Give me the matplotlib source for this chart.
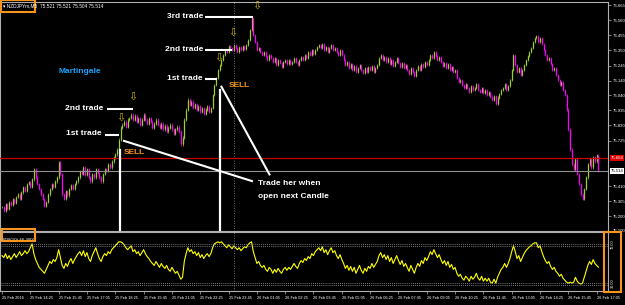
import numpy as np
import matplotlib.pyplot as plt
from matplotlib.patches import Rectangle

# M5 closes, 25 Feb 13:05 -> 26 Feb 17:15
closes = [
    75.263, 75.235, 75.283, 75.249, 75.297, 75.276, 75.318, 75.290, 75.332, 75.352,
    75.318, 75.366, 75.401, 75.373, 75.422, 75.435, 75.401, 75.456,
    75.525, 75.470, 75.422, 75.387, 75.352, 75.318, 75.270, 75.297, 75.352,
    75.387, 75.422, 75.401, 75.442, 75.470, 75.574,
    75.491, 75.352, 75.318, 75.373, 75.345, 75.387, 75.415, 75.387, 75.422, 75.442, 75.470,
    75.512, 75.491, 75.539, 75.484, 75.525, 75.470, 75.442, 75.491, 75.470, 75.525, 75.498, 75.470,
    75.442, 75.491, 75.525, 75.512, 75.560, 75.539, 75.580, 75.608, 75.629, 75.663, 75.732,
    75.815, 75.836, 75.857, 75.822, 75.871, 75.884, 75.905,
    75.871, 75.898, 75.857, 75.884, 75.836, 75.871, 75.905, 75.871, 75.843, 75.884,
    75.857, 75.815, 75.843, 75.871, 75.836,
    75.815, 75.843, 75.802, 75.829, 75.788, 75.815, 75.836, 75.802, 75.774, 75.802,
    75.822, 75.788, 75.698,
    75.746, 75.871, 75.940, 76.009, 75.974, 75.995,
    75.953, 75.981, 75.940, 75.967, 75.926, 75.953, 75.912, 75.940, 75.967, 75.926, 75.953,
    76.043, 76.112, 76.161, 76.216, 76.251, 76.285,
    76.320, 76.354, 76.340, 76.382, 76.368, 76.354, 76.389, 76.368, 76.340, 76.375,
    76.354, 76.382, 76.361, 76.389, 76.423, 76.492,
    76.575, 76.458, 76.410, 76.354, 76.368, 76.340, 76.320,
    76.340, 76.313, 76.285, 76.320, 76.299, 76.271, 76.299, 76.251, 76.285, 76.264,
    76.237, 76.271, 76.285, 76.258,
    76.285, 76.258, 76.271, 76.299, 76.271, 76.251, 76.285, 76.306, 76.285, 76.320,
    76.299, 76.340, 76.320, 76.354, 76.327, 76.354, 76.375,
    76.389, 76.368, 76.396, 76.354, 76.375, 76.340, 76.368, 76.389, 76.354, 76.368,
    76.340, 76.320, 76.354, 76.320,
    76.285, 76.251, 76.271, 76.230, 76.258, 76.216, 76.244, 76.202, 76.230, 76.251,
    76.216, 76.195, 76.230, 76.202, 76.237, 76.216, 76.244, 76.202, 76.230, 76.251,
    76.299, 76.320, 76.285, 76.306, 76.271, 76.299, 76.258, 76.285, 76.244, 76.271,
    76.299, 76.264, 76.237, 76.264, 76.230, 76.251,
    76.216, 76.188, 76.230, 76.202, 76.174, 76.216, 76.244, 76.216, 76.258, 76.237,
    76.271, 76.251,
    76.285, 76.320, 76.299, 76.340, 76.313, 76.285, 76.306, 76.271, 76.244, 76.264,
    76.230, 76.258, 76.216, 76.237, 76.202, 76.216,
    76.161, 76.133, 76.147, 76.112, 76.092, 76.119, 76.092, 76.064, 76.105, 76.078,
    76.092, 76.119, 76.078, 76.064, 76.092, 76.057, 76.078,
    76.043, 76.064, 76.030, 76.009, 76.036, 75.981, 76.023, 76.050, 76.078,
    76.092, 76.119, 76.078, 76.105, 76.147, 76.216, 76.320, 76.251,
    76.202, 76.230, 76.181, 76.216, 76.251, 76.285, 76.313, 76.340, 76.368, 76.410, 76.437,
    76.451, 76.410, 76.437, 76.396, 76.354, 76.320, 76.285, 76.299, 76.258, 76.216,
    76.230, 76.181,
    76.147, 76.112, 76.133, 76.078, 76.043, 75.940, 75.802, 75.663, 75.560,
    75.525, 75.594, 75.491, 75.422, 75.352, 75.318, 75.387, 75.470,
    75.560, 75.594, 75.539, 75.608, 75.580, 75.622, 75.514,
]

rsi = [
    58, 56, 60, 55, 58, 54, 57, 60, 56, 59, 62, 58, 60, 63, 60, 62, 66, 70,
    60, 54, 50, 46, 44, 42, 40, 44, 48, 52, 50, 54, 52, 56, 64,
    56, 48, 45, 50, 47, 52, 55, 50, 54, 57, 60, 62, 58, 63, 57, 61, 55, 52, 58, 62, 66, 60,
    55, 52, 57, 60, 58, 62, 60, 64, 66, 68, 70, 72,
    72, 71, 69, 66, 64, 66, 68, 62, 64, 60, 62, 58, 61, 64, 60, 57,
    55, 52, 50, 48, 52, 49, 46, 50, 47, 45, 48, 44, 42, 46, 43, 40, 42, 38, 34,
    36, 52, 60, 66, 62, 64,
    60, 62, 58, 61, 56, 59, 55, 58, 60, 57, 60,
    66, 70, 71, 72, 71, 72,
    70, 68, 66, 69, 67, 65, 68, 66, 64, 66, 63, 65, 67, 66, 69, 71,
    72, 62, 56, 50, 52, 48, 46,
    48, 44, 42, 46, 44, 40, 44, 41, 45, 42, 40, 44, 46, 43,
    46, 44, 47, 50, 47, 45, 50, 53, 51, 55, 53, 57, 55, 60, 58, 62, 64,
    66, 63, 67, 61, 64, 59, 63, 66, 61, 63, 58, 55, 59, 54,
    50, 45, 48, 43, 47, 42, 46, 40, 44, 48, 43, 40, 45, 42, 47, 45, 50, 46, 49, 52,
    58, 61, 56, 59, 54, 58, 52, 56, 50, 54, 58, 53, 49, 53, 47, 50,
    46, 42, 48, 44, 40, 46, 50, 47, 53, 50, 56, 53,
    57, 62, 59, 64, 60, 56, 59, 54, 50, 53, 48, 52, 46, 49, 44, 46,
    40, 37, 39, 35, 33, 37, 35, 32, 37, 34, 36, 40, 35, 33, 37, 32, 35,
    32, 35, 31, 30, 34, 30, 36, 40, 44,
    46, 50, 46, 50, 55, 62, 68, 62,
    55, 58, 52, 56, 60, 63, 65, 67, 68, 70, 71,
    71, 66, 68, 62, 57, 53, 50, 52, 47, 44, 46, 42,
    40, 37, 39, 35, 33, 31, 30, 31, 30,
    31, 36, 32, 30, 29, 30, 36, 42,
    48, 52, 49, 54, 50, 48, 46.3,
]

price_ticks = [76.665, 76.560, 76.455, 76.350, 76.245, 76.140, 76.040, 75.935,
               75.830, 75.725, 75.410, 75.305, 75.200, 75.100]
time_labels = ["25 Feb 2016", "25 Feb 14:25", "25 Feb 15:45", "25 Feb 17:05",
               "25 Feb 18:25", "25 Feb 19:45", "25 Feb 21:05", "25 Feb 22:25",
               "25 Feb 23:45", "26 Feb 01:05", "26 Feb 02:25", "26 Feb 03:45",
               "26 Feb 05:05", "26 Feb 06:25", "26 Feb 07:45", "26 Feb 09:05",
               "26 Feb 10:25", "26 Feb 11:45", "26 Feb 13:05", "26 Feb 14:25",
               "26 Feb 15:45", "26 Feb 17:05"]
red_level = 75.604
bid_level = 75.514
rsi_levels = [70, 30]
day_break = 131  # bar index of 26 Feb 00:00

bull = '#a0d030'
bear = '#ff00ff'
orange = '#f7941d'
plt.rcParams['font.family'] = ['Liberation Sans', 'DejaVu Sans']

W, H = 625, 305
fig = plt.figure(figsize=(W / 100, H / 100), dpi=100, facecolor='black')

def box(x0, y0, x1, y1):
    # pixel box -> figure fraction
    return [x0 / W, 1 - y1 / H, (x1 - x0) / W, (y1 - y0) / H]

ax = fig.add_axes(box(0, 2, 608, 231))
axr = fig.add_axes(box(0, 232, 608, 291), sharex=ax)

for a in (ax, axr):
    a.set_facecolor('black')
    for s in a.spines.values():
        s.set_color('#b0b0b0')
        s.set_linewidth(0.8)

# candles
c = np.array(closes)
o = np.r_[c[0], c[:-1]]
idx = np.arange(len(c))
up = c >= o
pad = 0.008
for m, col in ((up, bull), (~up, bear)):
    ax.vlines(idx[m], np.minimum(o, c)[m] - pad, np.maximum(o, c)[m] + pad, color=col, lw=0.5)
    ax.vlines(idx[m], o[m], c[m], color=col, lw=0.9)

ax.set_xlim(-1.13, 342.4)
ax.set_ylim(75.098, 76.686)
ax.axhline(red_level, color='#c80000', lw=0.9, zorder=3)
ax.axhline(bid_level, color='#909090', lw=0.8, zorder=3)
ax.axvline(day_break, color='#909090', lw=0.6, ls=(0, (1, 2)))

ax.yaxis.tick_right()
ax.set_yticks(price_ticks)
ax.set_yticklabels([f"{p:.3f}" for p in price_ticks])
ax.tick_params(axis='y', colors='#b0b0b0', labelcolor='white', labelsize=3.1,
               length=2, width=0.5, pad=1.2)
ax.tick_params(axis='x', bottom=False, labelbottom=False)
yt = ax.get_yaxis_transform()
ax.text(1.004, red_level, f"{red_level:.3f}", transform=yt, fontsize=3.1, color='white',
        va='center', ha='left', bbox=dict(fc='#e00000', ec='none', pad=0.6))
ax.text(1.004, bid_level, f"{bid_level:.3f}", transform=yt, fontsize=3.1, color='black',
        va='center', ha='left', bbox=dict(fc='white', ec='none', pad=0.6))

# annotations (bar index, price)
txt = dict(color='white', fontsize=6, fontweight='bold', va='center', zorder=6)
wl = dict(color='white', lw=1.5, zorder=5, solid_capstyle='butt')
arw = dict(color='#c8b000', fontsize=8, ha='center', va='center', zorder=6,
           family='DejaVu Sans')
sell = dict(color=orange, fontsize=6, fontweight='bold', va='center', ha='left', zorder=6)

ax.text(57.1, 75.947, '2nd trade', ha='right', **txt)
ax.plot([59.3, 74.0], [75.947, 75.947], **wl)
ax.text(56.5, 75.774, '1st trade', ha='right', **txt)
ax.plot([58.2, 66.1], [75.767, 75.767], **wl)
ax.text(67.2, 75.884, '⇩', **arw)
ax.text(74.0, 76.030, '⇩', **arw)
ax.text(68.9, 75.643, 'SELL', **sell)
ax.plot([66.7, 66.7], [75.663, 75.098], color='white', lw=1.6, zorder=5)

ax.text(44.1, 76.202, 'Martingale', ha='center', color='#1aa3ff', fontsize=6,
        fontweight='bold', va='center', zorder=6)
ax.text(113.6, 76.582, '3rd trade', ha='right', **txt)
ax.plot([114.7, 141.8], [76.582, 76.582], **wl)
ax.text(113.6, 76.354, '2nd trade', ha='right', **txt)
ax.plot([114.7, 129.9], [76.354, 76.354], **wl)
ax.text(113.6, 76.154, '1st trade', ha='right', **txt)
ax.plot([114.7, 121.5], [76.154, 76.154], **wl)
ax.text(122.6, 76.299, '⇩', **arw)
ax.text(130.5, 76.472, '⇩', **arw)
ax.text(144.1, 76.660, '⇩', **arw)
ax.text(128.2, 76.105, 'SELL', **sell)
ax.plot([123.2, 123.2], [76.078, 75.098], color='white', lw=1.6, zorder=5)

ax.plot([68.4, 141.8], [75.725, 75.442], **wl)
ax.plot([123.7, 151.4], [76.105, 75.484], **wl)
ax.text(144.6, 75.428, 'Trade her when', ha='left', **txt)
ax.text(144.6, 75.339, 'open next Candle', ha='left', **txt)

# RSI panel
axr.plot(np.arange(len(rsi)), rsi, color='#ffff00', lw=0.8)
axr.set_ylim(22, 82)
for lv in rsi_levels:
    for off in (0, -1.9):
        axr.axhline(lv + off, color='#a0a0a0', lw=0.6, ls=(0, (1, 1.5)))
axr.axvline(day_break, color='#909090', lw=0.6, ls=(0, (1, 2)))
axr.set_yticks([])
axr.text(0.005, 0.9, f"RSI(10) {rsi[-1]:.4f}", transform=axr.transAxes, color='white',
         fontsize=3.2, va='top', ha='left')

ticks = np.arange(len(time_labels)) * 16
axr.set_xticks(ticks)
axr.set_xticklabels(time_labels, ha='left')
axr.tick_params(axis='x', colors='#b0b0b0', labelcolor='white', labelsize=2.8,
                length=2, width=0.5, pad=1.5)

fig.text(613 / W, 1 - 244 / H, "70.00", rotation=90, color='white', fontsize=2.8,
         ha='center', va='center')
fig.text(613 / W, 1 - 283 / H, "30.00", rotation=90, color='white', fontsize=2.8,
         ha='center', va='center')

# header
fig.text(3 / W, 1 - 6 / H, "▾ NZDJPYm,M5  75.521 75.521 75.504 75.514", color='white',
         fontsize=3.4, va='center', ha='left')

# orange highlight boxes from the screenshot
for b in ((1, 0, 35, 12), (2, 229, 35, 241), (604, 232, 621, 292)):
    fig.add_artist(Rectangle((b[0] / W, 1 - b[3] / H), (b[2] - b[0]) / W, (b[3] - b[1]) / H,
                             transform=fig.transFigure, fill=False, ec=orange, lw=1.5))

fig.savefig('out.png', dpi=100, facecolor='black')
